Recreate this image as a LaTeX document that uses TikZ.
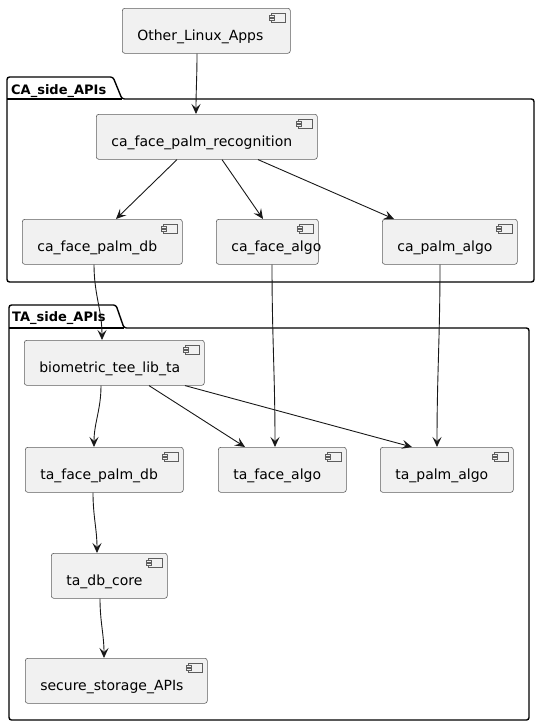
\documentclass[tikz,border=0pt]{standalone}
\usepackage{fontspec}
\setmainfont{DejaVu Sans}
\usetikzlibrary{arrows.meta,calc}

\definecolor{compfill}{HTML}{F1F1F1}
\definecolor{compline}{HTML}{5E5E5E}
\definecolor{edge}{HTML}{181818}

\tikzset{
  comp/.style={draw=compline, fill=compfill, rounded corners=2.5pt, line width=0.6pt,
    anchor=north west, inner xsep=0pt, inner ysep=0pt,
    text width=#1, align=left, text height=32pt, text depth=13pt,
    font=\fontsize{14}{16}\selectfont,
    execute at begin node=\hspace*{15pt}},
  icon/.style={draw=compline, fill=compfill, line width=0.5pt},
  pkg/.style={draw=black, line width=1.4pt, rounded corners=2.5pt},
  pkglabel/.style={anchor=base west, inner sep=0pt, font=\fontsize{13}{15}\selectfont\bfseries},
  dep/.style={draw=edge, line width=0.9pt, -{Stealth[length=10pt,width=9pt,inset=4pt]}},
}

\begin{document}
\begin{tikzpicture}[x=1pt,y=-1pt]
\useasboundingbox (0,0) rectangle (540,728);

% packages
\draw[pkg] (7,99) -- (7,77) -- (113,77) -- (122,99) -- (534,99) -- (534,282) -- (7,282) -- cycle;
\draw[black, line width=1.4pt] (7,99) -- (122,99);
\node[pkglabel] (calbl) at (11,94) {CA\_side\_APIs};

\draw[pkg] (9,328) -- (9,305) -- (116,305) -- (124,328) -- (529,328) -- (529,720) -- (9,720) -- cycle;
\draw[black, line width=1.4pt] (9,328) -- (124,328);
\node[pkglabel] (talbl) at (12,321) {TA\_side\_APIs};

% components
\node[comp=168pt] (ola)  at (122,8)   {Other\_Linux\_Apps};
\node[comp=221pt] (cfpr) at (96,114)  {ca\_face\_palm\_recognition};
\node[comp=160pt] (cfpd) at (22,219)  {ca\_face\_palm\_db};
\node[comp=102pt] (cfa)  at (216,219) {ca\_face\_algo};
\node[comp=135pt] (cpa)  at (382,219) {ca\_palm\_algo};
\node[comp=180pt] (btl)  at (24,340)  {biometric\_tee\_lib\_ta};
\node[comp=158pt] (tfpd) at (25,447)  {ta\_face\_palm\_db};
\node[comp=128pt] (tfa)  at (218,447) {ta\_face\_algo};
\node[comp=133pt] (tpa)  at (380,447) {ta\_palm\_algo};
\node[comp=116pt] (tdc)  at (51,553)  {ta\_db\_core};
\node[comp=182pt] (ssa)  at (25,658)  {secure\_storage\_APIs};

% component icons
\foreach \n in {ola,cfpr,cfpd,cfa,cpa,btl,tfpd,tfa,tpa,tdc,ssa} {
  \draw[icon] ([shift={(-19,5)}]\n.north east) rectangle ([shift={(-5,14)}]\n.north east);
  \draw[icon] ([shift={(-21,7)}]\n.north east) rectangle ([shift={(-16,9)}]\n.north east);
  \draw[icon] ([shift={(-21,10)}]\n.north east) rectangle ([shift={(-16,12)}]\n.north east);
}

% dependencies
\draw[dep] ([xshift=75pt]ola.south west) to[out=-90,in=90] ([xshift=100pt]cfpr.north west);
\draw[dep] ([xshift=81pt]cfpr.south west) -- ([xshift=94pt]cfpd.north west);
\draw[dep] ([xshift=126pt]cfpr.south west) -- ([xshift=47pt]cfa.north west);
\draw[dep] ([xshift=162pt]cfpr.south west) -- ([xshift=12pt]cpa.north west);
\draw[dep] ([xshift=72pt]cfpd.south west) to[out=-90,in=90] ([xshift=78pt]btl.north west);
\draw[dep] ([xshift=56pt]cfa.south west) to[out=-90,in=90] ([xshift=57pt]tfa.north west);
\draw[dep] ([xshift=58pt]cpa.south west) to[out=-90,in=90] ([xshift=57pt]tpa.north west);
\draw[dep] ([xshift=77pt]btl.south west) to[out=-90,in=90] ([xshift=69pt]tfpd.north west);
\draw[dep] ([xshift=125pt]btl.south west) -- ([xshift=27pt]tfa.north west);
\draw[dep] ([xshift=161pt]btl.south west) -- ([xshift=32pt]tpa.north west);
\draw[dep] ([xshift=68pt]tfpd.south west) to[out=-90,in=90] ([xshift=46pt]tdc.north west);
\draw[dep] ([xshift=49pt]tdc.south west) to[out=-90,in=90] ([xshift=79pt]ssa.north west);
\end{tikzpicture}
\end{document}
